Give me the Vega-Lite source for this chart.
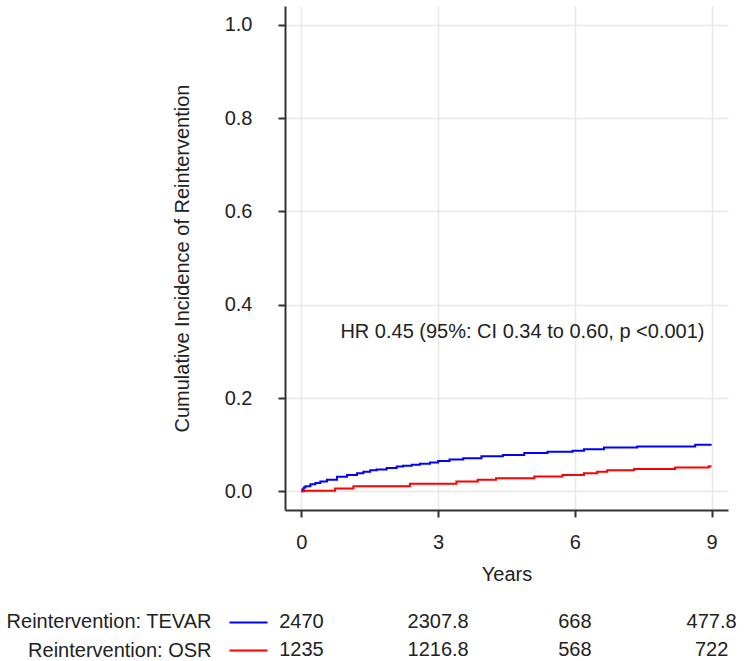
{
  "$schema": "https://vega.github.io/schema/vega-lite/v6.json",
  "padding": {"top": 6, "left": 5, "right": 5, "bottom": 5},
  "background": "white",
  "config": {
    "font": "Liberation Sans",
    "view": {"stroke": null},
    "axis": {
      "labelFont": "Liberation Sans",
      "titleFont": "Liberation Sans",
      "labelFontSize": 20,
      "titleFontSize": 20,
      "titleFontWeight": "normal",
      "labelColor": "#222222",
      "titleColor": "#222222",
      "labelLimit": 400,
      "domainColor": "#333333",
      "domainWidth": 2,
      "tickColor": "#333333",
      "tickWidth": 2,
      "tickSize": 7,
      "gridColor": "#e8e8e8",
      "gridWidth": 1.5
    }
  },
  "datasets": {
    "curves": [
      {"group": "TEVAR", "t": 0, "v": 0},
      {"group": "TEVAR", "t": 0.02, "v": 0.004},
      {"group": "TEVAR", "t": 0.05, "v": 0.008},
      {"group": "TEVAR", "t": 0.087, "v": 0.011},
      {"group": "TEVAR", "t": 0.197, "v": 0.015},
      {"group": "TEVAR", "t": 0.306, "v": 0.018},
      {"group": "TEVAR", "t": 0.415, "v": 0.021},
      {"group": "TEVAR", "t": 0.56, "v": 0.025},
      {"group": "TEVAR", "t": 0.78, "v": 0.031},
      {"group": "TEVAR", "t": 1.0, "v": 0.035},
      {"group": "TEVAR", "t": 1.22, "v": 0.039},
      {"group": "TEVAR", "t": 1.36, "v": 0.042},
      {"group": "TEVAR", "t": 1.51, "v": 0.045},
      {"group": "TEVAR", "t": 1.65, "v": 0.047},
      {"group": "TEVAR", "t": 1.87, "v": 0.05},
      {"group": "TEVAR", "t": 2.09, "v": 0.053},
      {"group": "TEVAR", "t": 2.23, "v": 0.055},
      {"group": "TEVAR", "t": 2.42, "v": 0.057},
      {"group": "TEVAR", "t": 2.6, "v": 0.059},
      {"group": "TEVAR", "t": 2.82, "v": 0.062},
      {"group": "TEVAR", "t": 3.0, "v": 0.065},
      {"group": "TEVAR", "t": 3.25, "v": 0.068},
      {"group": "TEVAR", "t": 3.55, "v": 0.071},
      {"group": "TEVAR", "t": 3.95, "v": 0.075},
      {"group": "TEVAR", "t": 4.42, "v": 0.078},
      {"group": "TEVAR", "t": 4.89, "v": 0.082},
      {"group": "TEVAR", "t": 5.4, "v": 0.085},
      {"group": "TEVAR", "t": 5.95, "v": 0.087},
      {"group": "TEVAR", "t": 6.2, "v": 0.09},
      {"group": "TEVAR", "t": 6.64, "v": 0.094},
      {"group": "TEVAR", "t": 7.37, "v": 0.096},
      {"group": "TEVAR", "t": 8.64, "v": 0.0997},
      {"group": "TEVAR", "t": 9.0, "v": 0.0997},
      {"group": "OSR", "t": 0, "v": 0},
      {"group": "OSR", "t": 0.06, "v": 0.001},
      {"group": "OSR", "t": 0.74, "v": 0.006},
      {"group": "OSR", "t": 1.14, "v": 0.011},
      {"group": "OSR", "t": 2.38, "v": 0.016},
      {"group": "OSR", "t": 3.4, "v": 0.021},
      {"group": "OSR", "t": 3.87, "v": 0.025},
      {"group": "OSR", "t": 4.27, "v": 0.028},
      {"group": "OSR", "t": 5.11, "v": 0.032},
      {"group": "OSR", "t": 5.73, "v": 0.035},
      {"group": "OSR", "t": 6.2, "v": 0.039},
      {"group": "OSR", "t": 6.49, "v": 0.042},
      {"group": "OSR", "t": 6.71, "v": 0.045},
      {"group": "OSR", "t": 7.3, "v": 0.048},
      {"group": "OSR", "t": 8.2, "v": 0.051},
      {"group": "OSR", "t": 8.94, "v": 0.054},
      {"group": "OSR", "t": 9.0, "v": 0.054}
    ],
    "risk": [
      {"group": "TEVAR", "t": 0, "n": "2470"},
      {"group": "TEVAR", "t": 3, "n": "2307.8"},
      {"group": "TEVAR", "t": 6, "n": "668"},
      {"group": "TEVAR", "t": 9, "n": "477.8"},
      {"group": "OSR", "t": 0, "n": "1235"},
      {"group": "OSR", "t": 3, "n": "1216.8"},
      {"group": "OSR", "t": 6, "n": "568"},
      {"group": "OSR", "t": 9, "n": "722"}
    ]
  },
  "vconcat": [
    {
      "width": 443,
      "height": 504,
      "layer": [
        {
          "data": {"name": "curves"},
          "mark": {"type": "line", "interpolate": "step-after", "strokeWidth": 2},
          "encoding": {
            "x": {
              "field": "t", "type": "quantitative",
              "scale": {"domain": [-0.36, 9.36], "nice": false, "zero": false},
              "axis": {"values": [0, 3, 6, 9], "title": "Years", "labelPadding": 15, "titlePadding": 12}
            },
            "y": {
              "field": "v", "type": "quantitative",
              "scale": {"domain": [-0.04, 1.04], "nice": false, "zero": false},
              "axis": {"values": [0, 0.2, 0.4, 0.6, 0.8, 1.0], "format": ".1f", "title": "Cumulative Incidence of Reintervention", "labelPadding": 26, "titlePadding": 32}
            },
            "color": {
              "field": "group", "type": "nominal",
              "scale": {"domain": ["TEVAR", "OSR"], "range": ["#0000ff", "#ff0000"]},
              "legend": null
            },
            "detail": {"field": "group"}
          }
        },
        {
          "data": {"values": [{"label": "HR 0.45 (95%: CI 0.34 to 0.60, p <0.001)"}]},
          "mark": {"type": "text", "fontSize": 20, "font": "Liberation Sans", "color": "#222222", "align": "center", "baseline": "middle"},
          "encoding": {
            "x": {"datum": 4.85, "type": "quantitative"},
            "y": {"datum": 0.342, "type": "quantitative"},
            "text": {"field": "label"}
          }
        }
      ]
    },
    {
      "width": 443,
      "height": 44,
      "data": {"name": "risk"},
      "mark": {"type": "text", "fontSize": 20, "font": "Liberation Sans", "color": "#222222", "align": "center", "baseline": "middle"},
      "encoding": {
        "x": {
          "field": "t", "type": "quantitative",
          "scale": {"domain": [-0.36, 9.36], "nice": false, "zero": false},
          "axis": null
        },
        "y": {
          "field": "group", "type": "ordinal",
          "scale": {"type": "point", "padding": 0.26, "domain": ["TEVAR", "OSR"]},
          "axis": {
            "title": null,
            "domain": false,
            "grid": false,
            "offset": 18,
            "tickSize": 38,
            "tickWidth": 2,
            "tickColor": {"condition": {"test": "datum.value === 'TEVAR'", "value": "#0000ff"}, "value": "#ff0000"},
            "labelPadding": 18,
            "labelLimit": 400,
            "labelExpr": "'Reintervention: ' + datum.value"
          }
        },
        "text": {"field": "n"}
      }
    }
  ],
  "spacing": 27
}
